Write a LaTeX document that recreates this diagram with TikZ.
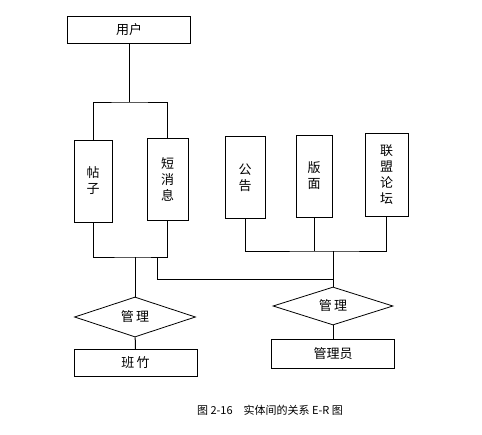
\documentclass[tikz,border=0pt]{standalone}
\usepackage{fontspec}
\newfontfamily\cjk{Noto Sans CJK SC}
\usetikzlibrary{shapes.geometric}

\begin{document}
\begin{tikzpicture}[
  x=1pt, y=-1pt,
  font=\cjk\fontsize{13}{16}\selectfont,
  every path/.style={line width=1pt},
  entity/.style={draw, line width=1pt, inner sep=0pt, align=center},
  wide/.style={entity, minimum width=123pt, minimum height=27pt},
  tall/.style={entity, minimum height=82pt},
  relation/.style={draw, diamond, aspect=3, inner sep=0pt, line width=0.8pt, minimum width=121pt, minimum height=40pt},
  caption/.style={font=\cjk\fontsize{11}{13}\selectfont}
]
\useasboundingbox (0,0) rectangle (482,434);

% entities
\node[wide] (user) at (129,30) {用户};
\node[tall, minimum width=38pt] (tiezi) at (93,181) {帖\\子};
\node[tall, minimum width=41pt] (duanxx) at (167.5,179) {短\\消\\息};
\node[tall, minimum width=40pt] (gonggao) at (245,177.5) {公\\告};
\node[tall, minimum width=36pt] (banmian) at (314,176) {版\\面};
\node[tall, minimum width=43pt, minimum height=83pt] (luntan) at (386.5,174.5) {联\\盟\\论\\坛};

% relations
\node[relation] (mgrl) at (135,317) {管\,理};
\node[relation, minimum width=120pt, minimum height=38pt] (mgrr) at (333,306) {管\,理};

% lower entities
\node[wide] (banzhu) at (135.5,363) {班\,竹};
\node[wide, minimum height=29pt] (admin) at (333,353.5) {管理员};

% junctions
\coordinate (jtop) at (129,102);
\coordinate (jleft) at (135,257);
\coordinate (jlink) at (157,257);
\coordinate (jright) at (333,251);
\coordinate (jmid) at (333,279);

\draw (user) -- (jtop);
\draw (tiezi.north) |- (jtop) -| (duanxx.north);
\draw (tiezi.south) |- (jleft) -| (duanxx.south);
\draw (jleft) -- (mgrl.north);
\draw (jlink) |- (jmid);
\draw (gonggao.south) |- (jright) -| (luntan.south);
\draw (banmian.south) -- (banmian.south |- jright);
\draw (jright) -- (mgrr.north);
\draw (mgrl) -- (banzhu);
\draw (mgrr) -- (admin);

\node[caption] (cap) at (270,410) {图 2-16\quad 实体间的关系 E-R 图};
\end{tikzpicture}
\end{document}
